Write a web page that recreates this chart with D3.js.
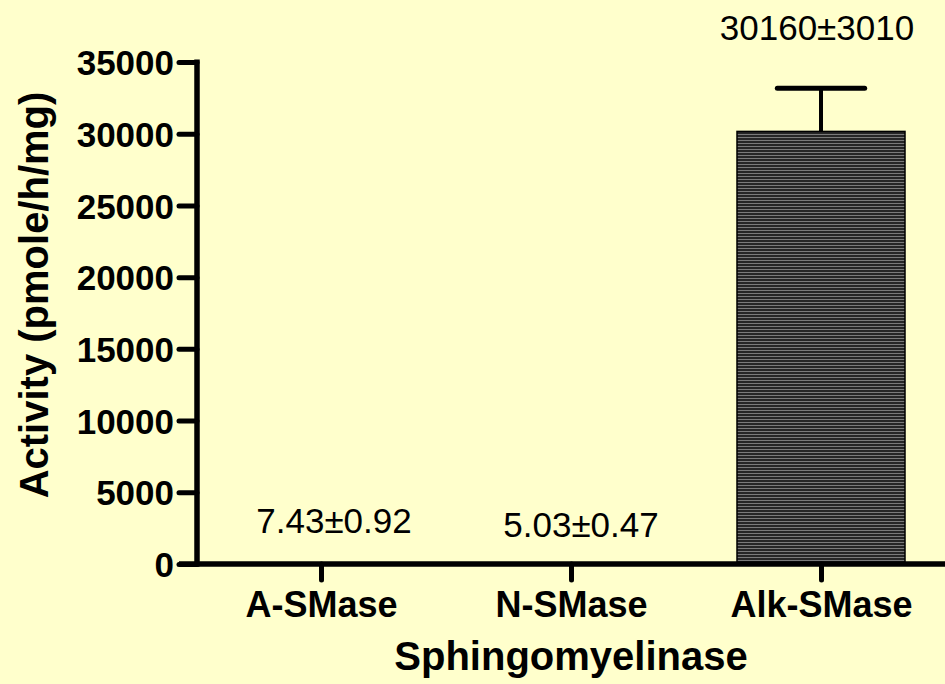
<!DOCTYPE html>
<html><head><meta charset="utf-8">
<script src="https://cdn.jsdelivr.net/npm/d3@7"></script>
<style>html,body{margin:0;padding:0;background:#FFFFCC;}svg{display:block;}</style>
</head><body>
<script>
const categories = ["A-SMase", "N-SMase", "Alk-SMase"];
const values = [7.43, 5.03, 30160];
const errors = [0.92, 0.47, 3010];
const valueLabels = ["7.43\u00B10.92", "5.03\u00B10.47", "30160\u00B13010"];
const yTicks = [0, 5000, 10000, 15000, 20000, 25000, 30000, 35000];

const W = 945, H = 684;
const svg = d3.select("body").append("svg").attr("width", W).attr("height", H);
svg.append("rect").attr("width", W).attr("height", H).attr("fill", "#FFFFCC");

const defs = svg.append("defs");
const pat = defs.append("pattern").attr("id", "stripes").attr("patternUnits", "userSpaceOnUse")
  .attr("width", 10).attr("height", 3);
pat.append("rect").attr("width", 10).attr("height", 3).attr("fill", "#262626");
pat.append("rect").attr("y", 2).attr("width", 10).attr("height", 1).attr("fill", "#7a7a7a");

const x0 = 197, y0 = 564;
const x = d3.scalePoint().domain(categories).range([x0 - 1, 946]).padding(0.5);
const y = d3.scaleLinear().domain([0, 35000]).range([y0, 62]);
const barW = x.step() * 0.672;

// bars
svg.selectAll(".bar").data(categories).enter().append("rect")
  .attr("x", d => x(d) - barW / 2)
  .attr("y", (d, i) => y(values[i]))
  .attr("width", barW)
  .attr("height", (d, i) => y0 - y(values[i]))
  .attr("fill", "url(#stripes)").attr("stroke", "#000").attr("stroke-width", 1.5);

// error bars (upper only)
categories.forEach((c, i) => {
  const top = y(values[i] + errors[i]);
  const bot = y(values[i]);
  if (bot - top < 1) return;
  svg.append("line").attr("x1", x(c)).attr("x2", x(c)).attr("y1", bot).attr("y2", top)
    .attr("stroke", "#000").attr("stroke-width", 4);
  svg.append("line").attr("x1", x(c) - barW * 0.26).attr("x2", x(c) + barW * 0.26)
    .attr("y1", top).attr("y2", top)
    .attr("stroke", "#000").attr("stroke-width", 5).attr("stroke-linecap", "round");
});

// y axis
const yAxis = svg.append("g").attr("transform", `translate(${x0},0)`)
  .call(d3.axisLeft(y).tickValues(yTicks).tickSize(18).tickPadding(5).tickFormat(d3.format("d")));
yAxis.select(".domain").remove();
yAxis.selectAll(".tick line").attr("stroke", "#000").attr("stroke-width", 5).attr("stroke-linecap", "round");
yAxis.selectAll(".tick text").attr("font-family", "Liberation Sans, Arial, sans-serif")
  .attr("font-weight", "bold").attr("font-size", 35).attr("fill", "#000").attr("dy", "0.36em");
svg.append("line").attr("x1", x0).attr("x2", x0).attr("y1", y(35000) - 2.5).attr("y2", y0 + 2.5)
  .attr("stroke", "#000").attr("stroke-width", 5.5);

// x axis
const xAxis = svg.append("g").attr("transform", `translate(0,${y0})`)
  .call(d3.axisBottom(x).tickSize(16).tickPadding(8));
xAxis.select(".domain").remove();
xAxis.selectAll(".tick line").attr("stroke", "#000").attr("stroke-width", 5).attr("stroke-linecap", "round");
xAxis.selectAll(".tick text").attr("font-family", "Liberation Sans, Arial, sans-serif")
  .attr("font-weight", "bold").attr("font-size", 36).attr("fill", "#000").attr("dy", "0.8em");
svg.append("line").attr("x1", x0 - 18).attr("x2", W).attr("y1", y0).attr("y2", y0)
  .attr("stroke", "#000").attr("stroke-width", 5.5);

// value labels
const labelOffsets = [[13, 533], [10, 537], [-4, 40]];
categories.forEach((c, i) => {
  svg.append("text").attr("x", x(c) + labelOffsets[i][0]).attr("y", labelOffsets[i][1])
    .attr("text-anchor", "middle").attr("font-family", "Liberation Sans, Arial, sans-serif")
    .attr("font-size", 35).attr("fill", "#000").text(valueLabels[i]);
});

// axis titles
svg.append("text").attr("x", 571).attr("y", 670).attr("text-anchor", "middle")
  .attr("font-family", "Liberation Sans, Arial, sans-serif").attr("font-weight", "bold")
  .attr("font-size", 40).attr("fill", "#000").text("Sphingomyelinase");
svg.append("text").attr("transform", "translate(48,295) rotate(-90)").attr("text-anchor", "middle")
  .attr("font-family", "Liberation Sans, Arial, sans-serif").attr("font-weight", "bold")
  .attr("font-size", 40).attr("fill", "#000").text("Activity (pmole/h/mg)");
</script>
</body></html>
